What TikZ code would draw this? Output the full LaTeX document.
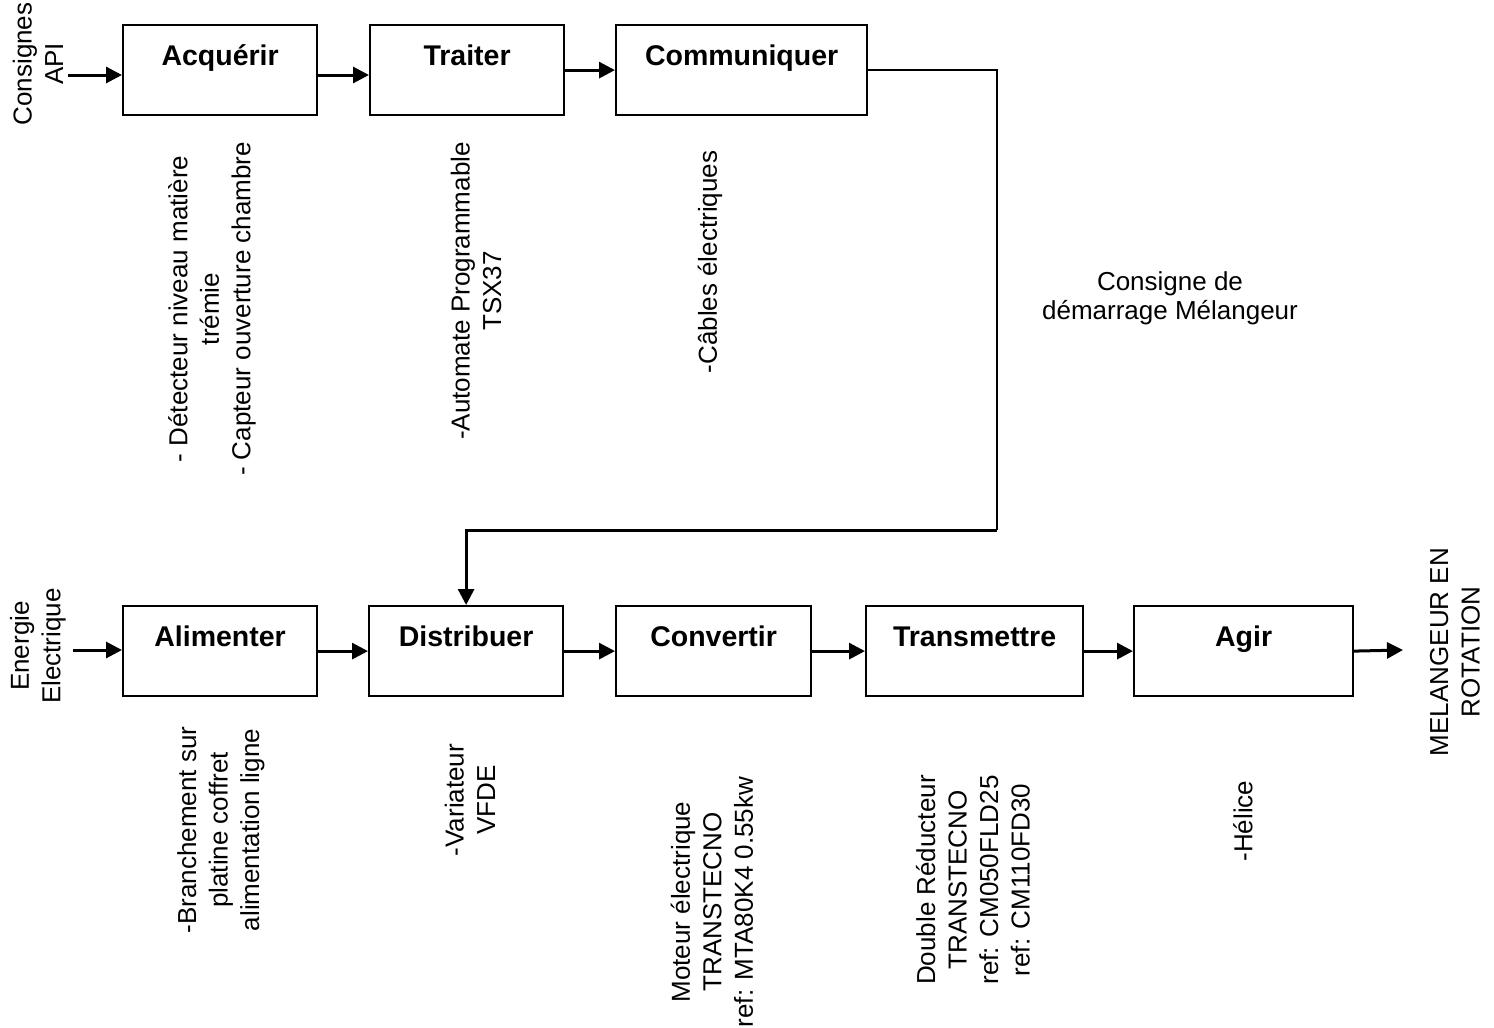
\documentclass[tikz,border=0pt]{standalone}
\usepackage{fontspec}
\setmainfont{Liberation Sans}
\usetikzlibrary{arrows.meta}
\tikzset{
  fonction/.style={draw, line width=1.1pt, inner sep=0pt, anchor=north west,
    text height=20pt, text depth=25pt,
    font=\fontsize{14.25}{16}\selectfont\bfseries},
  solution/.style={rotate=90, align=center, inner sep=0pt,
    font=\fontsize{13}{15.75}\selectfont},
  legende/.style={align=center, inner sep=0pt,
    font=\fontsize{13}{14.5}\selectfont},
  fleche/.style={line width=1.5pt, -{Triangle[length=8pt,width=8pt]}},
  liaison/.style={line width=1.1pt}
}

\begin{document}
\begin{tikzpicture}[x=0.5pt, y=-0.5pt]
    \useasboundingbox (0,0) rectangle (1494,1028);

    % chaine d'information
    \node[fonction, minimum width=97pt] (acq) at (122,24) {Acquérir};
    \node[fonction, minimum width=97pt] (tra) at (369,24) {Traiter};
    \node[fonction, minimum width=125.5pt] (com) at (615,24) {Communiquer};

    \node[solution] (entreeAPI) at (38,64) {Consignes\\API};
    \coordinate (inAPI) at (68,75);
    \draw[fleche] (inAPI) -- (acq.west |- inAPI);
    \draw[fleche] (acq.east |- inAPI) -- (tra.west |- inAPI);
    \draw[fleche] (tra.east) -- (com.west);

    \node[solution] (solacq) at (212,309) {- Détecteur niveau matière\\trémie\\- Capteur ouverture chambre};
    \node[solution] (soltra) at (476,291) {-Automate Programmable\\TSX37};
    \node[solution] (solcom) at (710,262) {-Câbles électriques};

    % chaine d'energie
    \node[fonction, minimum width=97pt] (ali) at (122,605) {Alimenter};
    \node[fonction, minimum width=97pt] (dis) at (368,605) {Distribuer};
    \node[fonction, minimum width=97.5pt] (con) at (615,605) {Convertir};
    \node[fonction, minimum width=108.5pt] (trm) at (865,605) {Transmettre};
    \node[fonction, minimum width=109.5pt] (agi) at (1133,605) {Agir};

    \node[solution] (entreeEE) at (38,646) {Energie\\Electrique};
    \coordinate (inEE) at (73,650);
    \draw[fleche] (inEE) -- (ali.west |- inEE);
    \draw[fleche] (ali.east) -- (dis.west);
    \draw[fleche] (dis.east) -- (con.west);
    \draw[fleche] (con.east) -- (trm.west);
    \draw[fleche] (trm.east) -- (agi.west);
    \coordinate (sortie) at (1403,650);
    \draw[fleche] (agi.east) -- (sortie);
    \node[solution] (sortieMR) at (1455,652) {MELANGEUR EN\\ROTATION};

    \node[solution] (solali) at (221,830) {-Branchement sur\\platine coffret\\alimentation ligne};
    \node[solution] (soldis) at (470,800) {-Variateur\\VFDE};
    \node[solution] (solcon) at (712,902) {Moteur électrique\\TRANSTECNO\\ref: MTA80K4 0.55kw};
    \node[solution] (soltrm) at (973,880) {Double Réducteur\\TRANSTECNO\\ref: CM050FLD25\\ref: CM110FD30};
    \node[solution] (solagi) at (1243,821) {-Hélice};

    % consigne de demarrage
    \coordinate (coude) at (997,530);
    \draw[liaison] (com.east) -| (coude);
    \draw[fleche] (coude) -| (dis.north);
    \node[legende] (consigne) at (1170,298) {Consigne de\\démarrage Mélangeur};
\end{tikzpicture}
\end{document}
